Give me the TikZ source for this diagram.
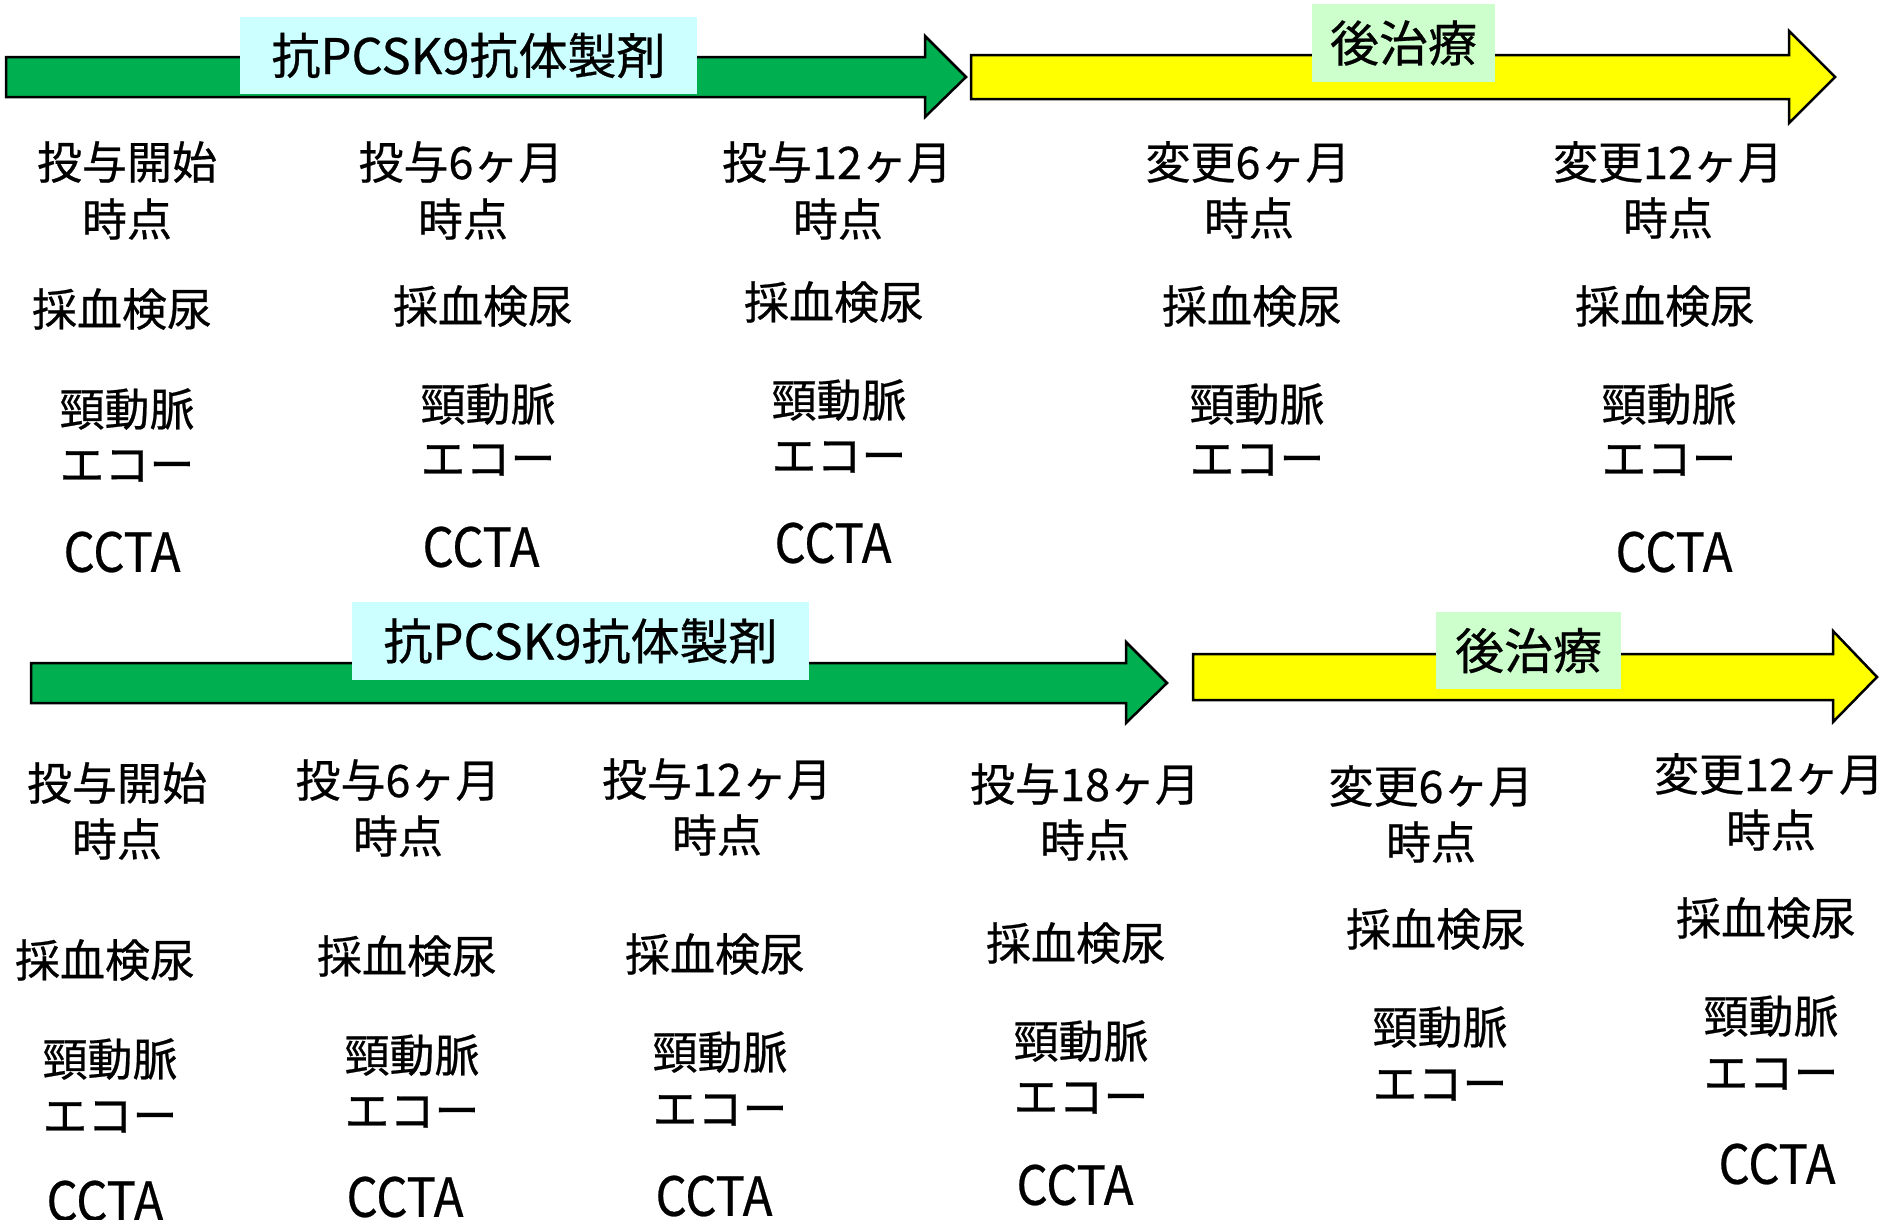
\documentclass[tikz,border=0pt]{standalone}
\usepackage{fontspec}
\setmainfont{Noto Sans CJK JP}[FakeBold=0.5]
\definecolor{ogreen}{RGB}{0,176,80}
\definecolor{oyellow}{RGB}{255,255,0}
\definecolor{lcyan}{RGB}{204,255,255}
\definecolor{lgreen}{RGB}{204,255,204}
\newcommand{\ccta}{\scalebox{1}[1.1]{CCTA}}
\begin{document}
\begin{tikzpicture}[x=1pt,y=-1pt,
  arr/.style={draw=black,line width=2.5pt,line join=miter},
  lbl/.style={inner sep=0pt,font=\fontsize{49}{56}\selectfont},
  tx/.style={inner sep=0pt,font=\fontsize{45}{54}\selectfont,anchor=center},
  ctx/.style={inner sep=0pt,font=\fontsize{49}{54}\selectfont,anchor=center}]
\useasboundingbox[fill=white] (0,0) rectangle (1879,1219);
% arrows
\draw[arr,fill=ogreen] (6,57) -- (925,57) -- (925,36) -- (966,77) -- (925,117) -- (925,97) -- (6,97) -- cycle;
\draw[arr,fill=oyellow] (971,55) -- (1789,55) -- (1789,31) -- (1835,77) -- (1789,123) -- (1789,99) -- (971,99) -- cycle;
\draw[arr,fill=ogreen] (31,663) -- (1126,663) -- (1126,642) -- (1167,683) -- (1126,723) -- (1126,703) -- (31,703) -- cycle;
\draw[arr,fill=oyellow] (1193,654) -- (1833,654) -- (1833,631) -- (1877,677) -- (1833,722) -- (1833,700) -- (1193,700) -- cycle;
% label boxes
\node[lbl,fill=lcyan,minimum width=457pt,minimum height=77pt] (l1) at (468.5,55.5) {抗PCSK9抗体製剤};
\node[lbl,fill=lgreen,minimum width=183pt,minimum height=78pt] (l2) at (1403.5,43) {後治療};
\node[lbl,fill=lcyan,minimum width=457pt,minimum height=78pt] (l3) at (580.5,641) {抗PCSK9抗体製剤};
\node[lbl,fill=lgreen,minimum width=185pt,minimum height=77pt] (l4) at (1528.5,650.5) {後治療};
% top row
\node[tx] (a1) at (127,162) {投与開始};
\node[tx] (a2) at (127,219) {時点};
\node[tx] (a3) at (122,309) {採血検尿};
\node[tx] (a4) at (127,409) {頸動脈};
\node[tx] (a5) at (127,466) {エコー};
\node[ctx] (a6) at (122,552) {\ccta};
\node[tx] (b1) at (461,162) {投与6ヶ月};
\node[tx] (b2) at (463,219) {時点};
\node[tx] (b3) at (483,306) {採血検尿};
\node[tx] (b4) at (488,404) {頸動脈};
\node[tx] (b5) at (488,460) {エコー};
\node[ctx] (b6) at (481,547) {\ccta};
\node[tx] (c1) at (837,162) {投与12ヶ月};
\node[tx] (c2) at (838,219) {時点};
\node[tx] (c3) at (834,302) {採血検尿};
\node[tx] (c4) at (839,400) {頸動脈};
\node[tx] (c5) at (839,457) {エコー};
\node[ctx] (c6) at (833,543) {\ccta};
\node[tx] (d1) at (1248,162) {変更6ヶ月};
\node[tx] (d2) at (1249,218) {時点};
\node[tx] (d3) at (1252,306) {採血検尿};
\node[tx] (d4) at (1257,404) {頸動脈};
\node[tx] (d5) at (1257,460) {エコー};
\node[tx] (e1) at (1668,162) {変更12ヶ月};
\node[tx] (e2) at (1668,218) {時点};
\node[tx] (e3) at (1665,306) {採血検尿};
\node[tx] (e4) at (1669,404) {頸動脈};
\node[tx] (e5) at (1669,460) {エコー};
\node[ctx] (e6) at (1674,552) {\ccta};
% bottom row
\node[tx] (f1) at (117,783) {投与開始};
\node[tx] (f2) at (117,839) {時点};
\node[tx] (f3) at (105,960) {採血検尿};
\node[tx] (f4) at (110,1059) {頸動脈};
\node[tx] (f5) at (110,1117) {エコー};
\node[ctx] (f6) at (105,1201) {\ccta};
\node[tx] (g1) at (398,780) {投与6ヶ月};
\node[tx] (g2) at (398,836) {時点};
\node[tx] (g3) at (407,956) {採血検尿};
\node[tx] (g4) at (412,1055) {頸動脈};
\node[tx] (g5) at (412,1112) {エコー};
\node[ctx] (g6) at (405,1197) {\ccta};
\node[tx] (h1) at (717,779) {投与12ヶ月};
\node[tx] (h2) at (717,835) {時点};
\node[tx] (h3) at (715,954) {採血検尿};
\node[tx] (h4) at (720,1052) {頸動脈};
\node[tx] (h5) at (720,1110) {エコー};
\node[ctx] (h6) at (714,1196) {\ccta};
\node[tx] (i1) at (1085,784) {投与18ヶ月};
\node[tx] (i2) at (1085,840) {時点};
\node[tx] (i3) at (1076,943) {採血検尿};
\node[tx] (i4) at (1081,1041) {頸動脈};
\node[tx] (i5) at (1081,1098) {エコー};
\node[ctx] (i6) at (1075,1185) {\ccta};
\node[tx] (j1) at (1431,786) {変更6ヶ月};
\node[tx] (j2) at (1431,842) {時点};
\node[tx] (j3) at (1436,929) {採血検尿};
\node[tx] (j4) at (1440,1027) {頸動脈};
\node[tx] (j5) at (1440,1085) {エコー};
\node[tx] (k1) at (1769,774) {変更12ヶ月};
\node[tx] (k2) at (1771,830) {時点};
\node[tx] (k3) at (1766,918) {採血検尿};
\node[tx] (k4) at (1771,1016) {頸動脈};
\node[tx] (k5) at (1771,1074) {エコー};
\node[ctx] (k6) at (1777,1164) {\ccta};
\end{tikzpicture}
\end{document}
